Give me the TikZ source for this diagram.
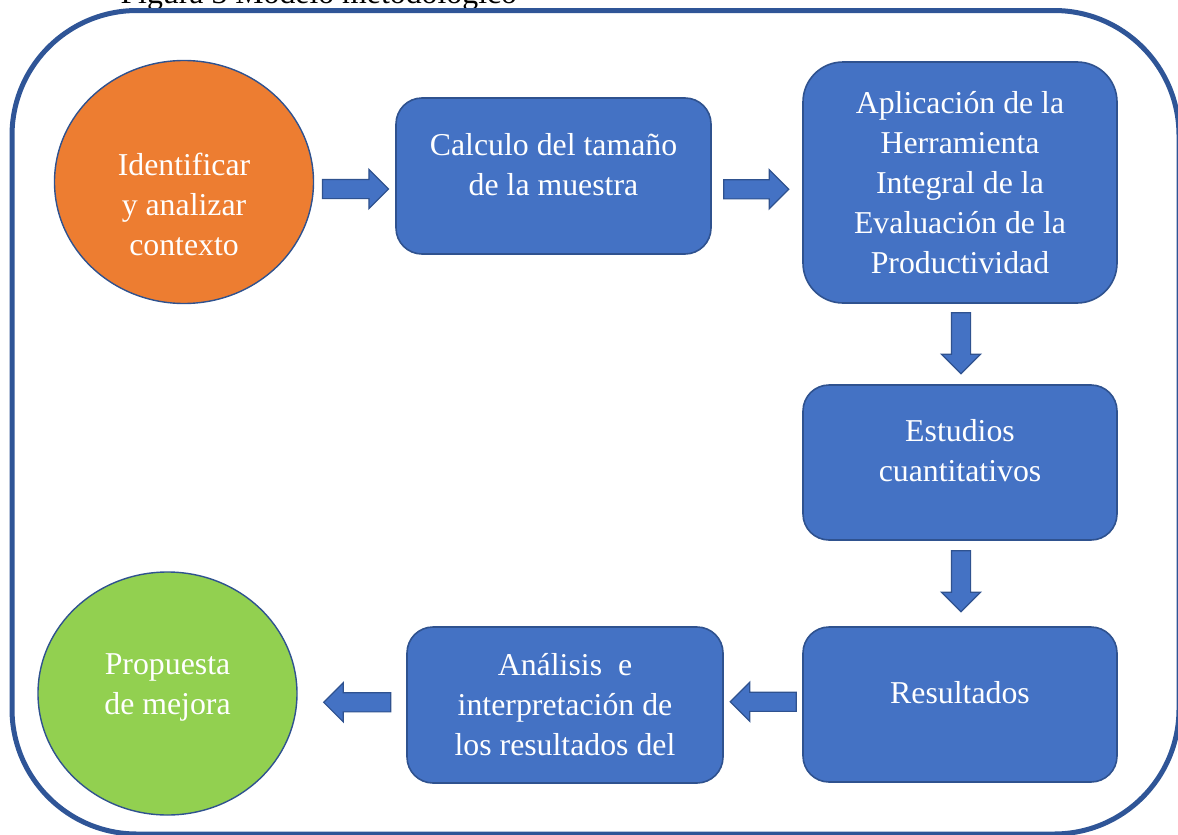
\documentclass[tikz,border=0pt]{standalone}
\usepackage{fontspec}
\setmainfont{Liberation Serif}
\usetikzlibrary{calc,shapes.geometric,shapes.arrows}

\definecolor{marco}{HTML}{2F5597}
\definecolor{borde}{HTML}{2F528F}
\definecolor{azul}{HTML}{4472C4}
\definecolor{naranja}{HTML}{ED7D31}
\definecolor{verde}{HTML}{92D050}

\begin{document}
\begin{tikzpicture}[x=1pt,y=-1pt,
	texto/.style={font=\fontsize{31.8}{40}\selectfont},
	caja/.style={texto, rectangle, rounded corners=26pt, draw=borde, line width=1.6pt,
		fill=azul, text=white, align=center, minimum width=314pt, minimum height=155pt, inner sep=0pt},
	disco/.style={texto, ellipse, draw=borde, line width=1.4pt, text=white, align=center,
		minimum width=259pt, minimum height=243pt, inner sep=0pt},
	flecha/.style={single arrow, draw=borde, line width=1.2pt, fill=azul, minimum height=65pt,
		inner sep=9pt, single arrow head extend=10pt, single arrow tip angle=90,
		single arrow head indent=0pt}]
			%%%%% START %%%%%
			\useasboundingbox (0, 0) rectangle (1178, 835);
			\clip (0, 0) rectangle (1178, 835);

			\node[texto, anchor=base west] (titulo) at (117, 3) {Figura 3 Modelo metodológico};
			\draw[marco, line width=5pt, rounded corners=125pt] (12, 10.5) rectangle (1179, 834);

			% fila superior
			\node[disco, fill=naranja, text height=147pt] (contexto) at (184, 182) {Identificar\\y analizar\\contexto};
			\node[caja, minimum width=315pt, minimum height=156pt, text depth=24pt] (muestra) at (553.5, 176) {Calculo del tamaño\\de la muestra};
			\node[caja, minimum height=241pt, rounded corners=40pt] (herramienta) at (960, 182.5) {Aplicación de la\\Herramienta\\Integral de la\\Evaluación de la\\Productividad};

			% columna derecha
			\node[caja, text depth=24pt] (estudios) at (960, 462.5) {Estudios\\cuantitativos};
			\node[caja, text depth=24pt] (resultados) at (960, 704.5) {Resultados};

			% fila inferior
			\node[caja, minimum width=316pt, minimum height=156pt] (analisis) at (565, 705) {Análisis~ e\\interpretación de\\los resultados del};
			\node[disco, fill=verde, text depth=19pt] (propuesta) at (167.5, 693.5) {Propuesta\\de mejora};

			% flechas de bloque
			\node[flecha, minimum height=66pt] (f1) at ($(contexto.east)!.5!(muestra.west)+(-4,10)$) {};
			\node[flecha] (f2) at ($(muestra.east)!.5!(herramienta.west)+(-5.5,10)$) {};
			\node[flecha, minimum height=61pt, rotate=-90] (f3) at ($(herramienta.south)!.5!(estudios.north)+(1,-5.5)$) {};
			\node[flecha, minimum height=61pt, rotate=-90] (f4) at ($(estudios.south)!.5!(resultados.north)+(1,-7)$) {};
			\node[flecha, minimum height=66pt, rotate=180] (f5) at ($(resultados.west)!.5!(analisis.east)+(5,-3)$) {};
			\node[flecha, minimum height=67pt, rotate=180] (f6) at ($(analisis.west)!.5!(propuesta.east)+(10,3)$) {};
			%%%%% END %%%%%
\end{tikzpicture}
\end{document}
